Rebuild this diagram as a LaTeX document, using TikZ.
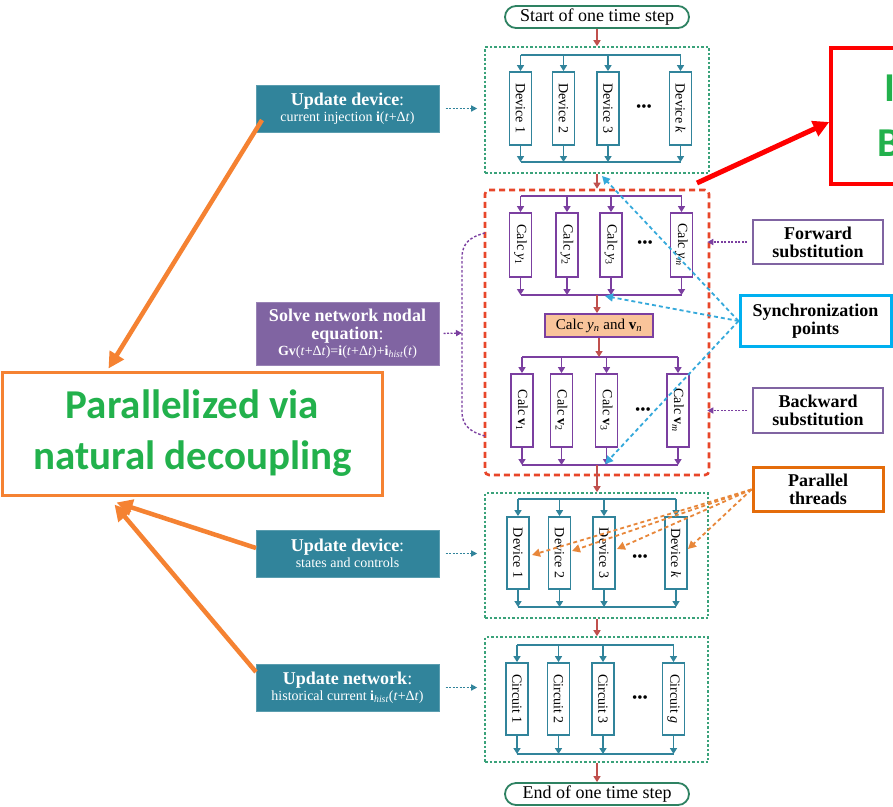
\documentclass[tikz,border=0pt]{standalone}
\usepackage{fontspec}
\setmainfont{Liberation Serif}
\newfontfamily\calib{Carlito}
\usetikzlibrary{arrows.meta,calc}
\definecolor{teal1}{HTML}{31849B}
\definecolor{grn}{HTML}{3AA27A}
\definecolor{purp}{HTML}{7B3FA0}
\definecolor{purpf}{HTML}{8064A2}
\definecolor{rbr}{HTML}{C0504D}
\definecolor{rdash}{HTML}{E8462A}
\definecolor{cyanb}{HTML}{00B0F0}
\definecolor{cyand}{HTML}{35A9DB}
\definecolor{orgb}{HTML}{E46C0A}
\definecolor{orgd}{HTML}{E8873A}
\definecolor{orgbig}{HTML}{F58232}
\definecolor{gtext}{HTML}{22B14C}
\definecolor{peach}{HTML}{F9C49A}
\tikzset{
  colbox/.style={draw=#1, line width=1.8pt, fill=white, minimum width=22pt, minimum height=73pt, inner sep=0pt, font=\fontsize{14}{14}\selectfont},
  busl/.style={draw=#1, line width=1.8pt},
  tarr/.style={draw=#1, line width=1.6pt, -{Triangle[length=6pt,width=7pt]}},
  redarr/.style={draw=rbr, line width=1.6pt, -{Triangle[length=6pt,width=7pt]}},
  gbox/.style={draw=grn, line width=1.6pt, dash pattern=on 2.5pt off 2pt, inner sep=0pt},
  leftbox/.style={fill=#1, draw=#1!80!white, line width=1pt, text=white, minimum width=183pt, align=center, inner sep=0pt, font=\fontsize{18}{17}\selectfont},
  rightbox/.style={draw=#1, fill=white, minimum width=130pt, minimum height=44pt, align=center, inner sep=0pt, font=\fontsize{18}{18}\selectfont\bfseries},
  dotarr/.style={draw=#1, line width=1.3pt, dash pattern=on 2pt off 1.5pt, -{Triangle[length=6pt,width=6pt]}},
  syncarr/.style={draw=cyand, line width=1.8pt, dash pattern=on 4pt off 3pt, -{Triangle[length=8pt,width=8pt]}},
  ptarr/.style={draw=orgd, line width=1.8pt, dash pattern=on 4pt off 3pt, -{Triangle[length=8pt,width=8pt]}},
  bigarr/.style={draw=orgbig, line width=4.5pt, -{Triangle[length=16pt,width=16pt]}},
  dots/.style={font=\fontsize{15}{15}\selectfont, inner sep=0pt},
  termin/.style={draw=grn!80!black, line width=1.8pt, rounded corners=11pt, minimum width=184pt, minimum height=22pt, inner sep=0pt, font=\fontsize{18}{18}\selectfont},
}
\begin{document}
\begin{tikzpicture}[x=1pt,y=-1pt]
\useasboundingbox (0,0) rectangle (893,806);
\fill[white] (0,0) rectangle (893,806);

% terminals
\node[termin] (start) at (597,17) {Start of one time step};
\node[termin] (end) at (597,794) {End of one time step};

% ---------- group 1: devices ----------
\node[gbox, minimum width=224pt, minimum height=126pt] (G1) at (597,110) {};
\coordinate (T1) at (597,55); \coordinate (B1) at (597,162);
\foreach \n/\x/\t in {1/520.5/Device 1, 2/563.5/Device 2, 3/608/Device 3, 4/680.5/Device \textit{k}}{
  \node[colbox=teal1] (A\n) at (\x,108.5) {\rotatebox{-90}{\t}};
  \draw[tarr=teal1] (A\n.north |- T1) -- (A\n.north);
  \draw[tarr=teal1] (A\n.south) -- (A\n.south |- B1);
}
\draw[busl=teal1] (A1.north |- T1) -- (A4.north |- T1);
\draw[busl=teal1] (A1.south |- B1) -- (A4.south |- B1);
\node[dots] (dotsA) at (644,108) {•••};

% ---------- red dashed block ----------
\node[draw=rdash, line width=2.6pt, dash pattern=on 6pt off 4pt, rounded corners=4pt, minimum width=224pt, minimum height=285pt, inner sep=0pt] (RB) at (597,332.5) {};
\coordinate (T2) at (597,196); \coordinate (B2) at (597,295);
\foreach \n/\x/\t in {1/520.5/Calc \textit{y}\textsubscript{1}, 2/567/Calc \textit{y}\textsubscript{2}, 3/611/Calc \textit{y}\textsubscript{3}, 4/681.5/Calc \textit{y}\textsubscript{\textit{m}}}{
  \node[colbox=purp, minimum height=64pt] (Y\n) at (\x,245) {\rotatebox{-90}{\t}};
  \draw[tarr=purp] (Y\n.north |- T2) -- (Y\n.north);
  \draw[tarr=purp] (Y\n.south) -- (Y\n.south |- B2);
}
\draw[busl=purp] (Y1.north |- T2) -- (Y4.north |- T2);
\draw[busl=purp] (Y1.south |- B2) -- (Y4.south |- B2);
\node[dots] (dotsY) at (645,244) {•••};

\node[draw=purp, line width=1.8pt, fill=peach, minimum width=108pt, minimum height=23pt, inner sep=0pt, font=\fontsize{15}{15}\selectfont] (YN) at (599,325.5) {Calc \textit{y}\textsubscript{\textit{n}} and \textbf{v}\textsubscript{\textit{n}}};

\coordinate (T3) at (599,357); \coordinate (B3) at (599,465);
\foreach \n/\x/\t in {1/522/Calc \textbf{v}\textsubscript{1}, 2/561.5/Calc \textbf{v}\textsubscript{2}, 3/606.5/Calc \textbf{v}\textsubscript{3}, 4/678/Calc \textbf{v}\textsubscript{\textit{m}}}{
  \node[colbox=purp] (V\n) at (\x,410.5) {\rotatebox{-90}{\t}};
  \draw[tarr=purp] (V\n.north |- T3) -- (V\n.north);
  \draw[tarr=purp] (V\n.south) -- (V\n.south |- B3);
}
\draw[busl=purp] (V1.north |- T3) -- (V4.north |- T3);
\draw[busl=purp] (V1.south |- B3) -- (V4.south |- B3);
\node[dots] (dotsV) at (643,411) {•••};

% ---------- group 4: devices ----------
\node[gbox, minimum width=223pt, minimum height=125pt] (G2) at (596.5,555.5) {};
\coordinate (T4) at (597,499); \coordinate (B4) at (597,607);
\foreach \n/\x/\t in {1/518/Device 1, 2/559.5/Device 2, 3/604/Device 3, 4/676/Device \textit{k}}{
  \node[colbox=teal1, minimum height=72pt] (D\n) at (\x,553) {\rotatebox{-90}{\t}};
  \draw[tarr=teal1] (D\n.north |- T4) -- (D\n.north);
  \draw[tarr=teal1] (D\n.south) -- (D\n.south |- B4);
}
\draw[busl=teal1] (D1.north |- T4) -- (D4.north |- T4);
\draw[busl=teal1] (D1.south |- B4) -- (D4.south |- B4);
\node[dots] (dotsD) at (640,558) {•••};

% ---------- group 5: circuits ----------
\node[gbox, minimum width=223pt, minimum height=125pt] (G3) at (596.5,699.5) {};
\coordinate (T5) at (597,645); \coordinate (B5) at (597,754);
\foreach \n/\x/\t in {1/517/Circuit 1, 2/558.5/Circuit 2, 3/603/Circuit 3, 4/673.5/Circuit \textit{g}}{
  \node[colbox=teal1, minimum height=72pt] (C\n) at (\x,699) {\rotatebox{-90}{\t}};
  \draw[tarr=teal1] (C\n.north |- T5) -- (C\n.north);
  \draw[tarr=teal1] (C\n.south) -- (C\n.south |- B5);
}
\draw[busl=teal1] (C1.north |- T5) -- (C4.north |- T5);
\draw[busl=teal1] (C1.south |- B5) -- (C4.south |- B5);
\node[dots] (dotsC) at (640,699) {•••};

% ---------- red flow arrows ----------
\draw[redarr] (start.south) -- (G1.north -| start.south);
\draw[redarr] (G1.south -| start.south) -- (RB.north -| start.south);
\draw[redarr] (B2) -- (YN.north -| B2);
\draw[redarr] (YN.south -| B3) -- (T3);
\draw[redarr] (B3 -| start.south) -- (G2.north -| start.south);
\draw[redarr] (G2.south -| start.south) -- (G3.north -| start.south);
\draw[redarr] (G3.south -| start.south) -- (end.north -| start.south);

% ---------- left boxes ----------
\node[leftbox=teal1, minimum height=47pt] (UD1) at (347.5,108.5) {\textbf{Update device}:\\[-1pt]{\fontsize{14}{14}\selectfont current injection \textbf{i}(\textit{t}+Δ\textit{t})}};
\node[leftbox=purpf, minimum height=63pt] (SV) at (347.5,333.5) {\textbf{Solve network nodal}\\[1pt]\textbf{equation}:\\[-1pt]{\fontsize{14}{14}\selectfont \textbf{Gv}(\textit{t}+Δ\textit{t})=\textbf{i}(\textit{t}+Δ\textit{t})+\textbf{i}\textsubscript{\textit{hist}}(\textit{t})}};
\node[leftbox=teal1, minimum height=47pt] (UD2) at (347.5,553.5) {\textbf{Update device}:\\[-1pt]{\fontsize{14}{14}\selectfont states and controls}};
\node[leftbox=teal1, minimum height=47pt] (UN) at (347.5,687.5) {\textbf{Update network}:\\[-1pt]{\fontsize{14}{14}\selectfont historical current \textbf{i}\textsubscript{\textit{hist}}(\textit{t}+Δ\textit{t})}};

\draw[dotarr=teal1, shorten <=6pt, shorten >=7pt] (UD1.east) -- (UD1.east -| G1.west);
\draw[dotarr=teal1, shorten <=6pt, shorten >=7pt] (UD2.east) -- (UD2.east -| G2.west);
\draw[dotarr=teal1, shorten <=6pt, shorten >=7pt] (UN.east) -- (UN.east -| G3.west);

% bracket
\coordinate (brk) at (462,333);
\draw[draw=purp, line width=1.4pt, dash pattern=on 2.5pt off 2pt] (485,233) .. controls (470,237) and (462,243) .. (462,258) -- (462,412) .. controls (462,425) and (470,432) .. (485,436);
\draw[dotarr=purp, shorten <=4pt] (SV.east) -- (brk);

% ---------- right boxes ----------
\node[rightbox=purpf, line width=1.6pt] (FS) at (818,242) {Forward\\substitution};
\node[rightbox=cyanb, line width=3pt, minimum width=151pt, minimum height=51pt] (SP) at (815.5,321) {Synchronization\\points};
\node[rightbox=purpf, line width=1.6pt, minimum height=45pt] (BS) at (818,410.5) {Backward\\substitution};
\node[rightbox=orgb, line width=3pt, minimum height=44pt] (PT) at (818,489.5) {Parallel\\threads};

\draw[dotarr=purp, shorten <=5pt, shorten >=-3pt] (FS.west) -- (FS.west -| RB.east);
\draw[dotarr=purp, shorten <=5pt, shorten >=-3pt] (BS.west) -- (BS.west -| RB.east);

\coordinate (sp1) at (602,176);
\coordinate (sp2) at (605,296);
\coordinate (sp3) at (605,464);
\draw[syncarr] (SP.west) -- (sp1);
\draw[syncarr] (SP.west) -- (sp2);
\draw[syncarr] (SP.west) -- (sp3);

\coordinate (pt1) at (532,555);
\coordinate (pt2) at (572,551);
\coordinate (pt3) at (617,549);
\coordinate (pt4) at (688,549);
\foreach \p in {pt1,pt2,pt3,pt4}{ \draw[ptarr] (PT.west) -- (\p); }

% ---------- annotation ----------
\node[draw=orgbig, line width=3pt, fill=white, minimum width=380pt, minimum height=123pt, align=center, inner sep=0pt, text=gtext, font=\calib\bfseries\fontsize{41}{51}\selectfont] (PV) at (192.5,433.5) {Parallelized via\\natural decoupling};

\coordinate (a1s) at (262,120);
\coordinate (a2s) at (256,548);
\coordinate (a3s) at (256,672);
\draw[bigarr] (a1s) -- ($(PV.north)+(-84,-2)$);
\draw[bigarr] (a2s) -- ($(PV.south)+(-76,6)$);
\draw[bigarr] (a3s) -- ($(PV.south)+(-78,8)$);

% ---------- clipped red box top right ----------
\begin{scope}
\clip (0,0) rectangle (893,806);
\node[draw=red, line width=3.5pt, minimum width=140pt, minimum height=136pt, inner sep=0pt] (RX) at (901,116) {};
\node[text=gtext, font=\calib\bfseries\fontsize{41}{41}\selectfont, anchor=west, inner sep=0pt] (RXa) at (884,88) {I};
\node[text=gtext, font=\calib\bfseries\fontsize{41}{41}\selectfont, anchor=west, inner sep=0pt] (RXb) at (877,143) {B};
\end{scope}
\coordinate (rxs) at (697,183);
\draw[draw=red, line width=5pt, -{Triangle[length=16pt,width=16pt]}] (rxs) -- (RX.west |- 0,122);
\end{tikzpicture}
\end{document}
